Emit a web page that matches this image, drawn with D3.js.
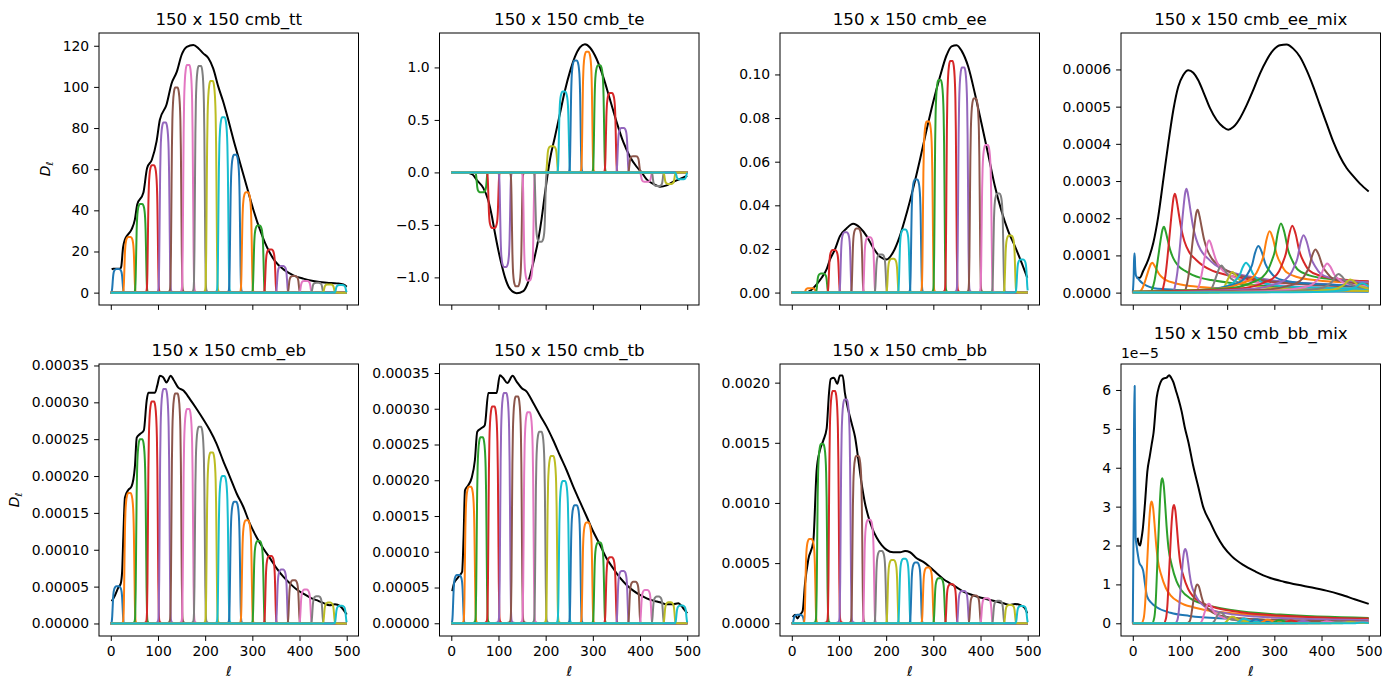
<!DOCTYPE html>
<html><head><meta charset="utf-8">
<script src="https://cdn.jsdelivr.net/npm/d3@7"></script>
<style>body{margin:0;background:#fff}svg{display:block}text{font-family:"DejaVu Sans",sans-serif;fill:#000}</style>
</head><body><svg id="chart" width="1391" height="690"></svg>
<script>
// ---------------- data ----------------
const titles = ["150 x 150 cmb_tt","150 x 150 cmb_te","150 x 150 cmb_ee","150 x 150 cmb_ee_mix",
                "150 x 150 cmb_eb","150 x 150 cmb_tb","150 x 150 cmb_bb","150 x 150 cmb_bb_mix"];
const xTicks = [0,100,200,300,400,500];
const binCenters = [14.5,39.4,64.3,89.2,114.1,139.0,163.9,188.8,213.7,238.6,263.5,288.4,313.3,338.2,363.1,388.0,412.9,437.8,462.7,487.6];
// bandpower window profile (offset from bin centre, relative weight)
const windowOffsets = [-24,-18,-15,-13.5,-12.5,-11.5,-10.5,-9.5,-8.5,-7,-5,-2.5,0,2.5,5,7,8.5,9.5,10.5,11.5,12.5,13.5,15,18,24];
const windowWeights = [0,0.002,0.006,0.015,0.05,0.19,0.45,0.7,0.84,0.93,0.98,1,1,1,0.98,0.93,0.84,0.7,0.45,0.19,0.05,0.015,0.006,0.002,0];

// theory curves (ell, D_ell)
const ttTheory = [[2,11.2],[5,11.6],[19.5,11.6],[22,12.5],[26,22],[30,25.8],[34,27.5],[44,30.7],[51,35.5],[56,42.8],[69,48.5],[77,60.6],[87,64.6],[97,73.5],[104,84],[118,91.3],[129,101.8],[140,107.4],[150,115.5],[161,119.5],[175,120.4],[186,118.7],[196,116.3],[207,113.9],[217,109],[228,100],[238,93],[249,84],[260,74.3],[274,63],[288,51.7],[302,40.4],[316,30.7],[330,22.6],[348,15.3],[366,11.3],[387,8.4],[408,6.8],[429,5.7],[458,4.8],[479,4.5],[493,4.0],[500,2.9]];
const teTheory = [[2,0],[30,0],[45,-0.02],[54,-0.073],[68,-0.15],[78,-0.26],[85.5,-0.405],[92.6,-0.58],[99.6,-0.74],[106.7,-0.88],[113.8,-1.0],[124.4,-1.11],[138.5,-1.15],[152.6,-1.13],[163.2,-1.04],[173.8,-0.86],[184.4,-0.64],[191.5,-0.44],[198.5,-0.2],[203.5,-0.04],[209,0.12],[219.7,0.34],[230.3,0.56],[240.9,0.78],[251.5,0.96],[262,1.10],[272.6,1.19],[283.2,1.22],[293.8,1.19],[308,1.08],[322,0.91],[336,0.70],[350.4,0.48],[364.5,0.29],[378.7,0.15],[392.8,0.054],[403.4,0],[414,-0.066],[428,-0.11],[442.3,-0.136],[456.4,-0.123],[470.5,-0.089],[484.6,-0.063],[500,-0.032]];
const eeTheory = [[2,0],[30,0],[38.6,0.0008],[52.7,0.0038],[63.3,0.0068],[73.9,0.0107],[81,0.0152],[91.5,0.0198],[102,0.0259],[116,0.0294],[130,0.0315],[144.5,0.0297],[158.6,0.0259],[172.7,0.0205],[187,0.0164],[201,0.0152],[215,0.0186],[229,0.0259],[243.6,0.0365],[257.5,0.048],[271.6,0.0609],[285.7,0.0746],[299.8,0.0875],[314,0.0989],[328,0.1088],[338.7,0.1129],[349.3,0.1134],[360,0.1108],[374,0.1035],[388,0.0913],[402,0.0776],[416.4,0.0632],[430.5,0.0487],[444.6,0.0373],[458.7,0.0282],[472.8,0.0213],[487,0.0137],[499,0.0068]];
const eeMixTheory = [[8,0.00004],[15,0.00004],[22,0.000058],[33,0.0000893],[43.5,0.000134],[54,0.000205],[64.7,0.000304],[75.3,0.000402],[85.9,0.000491],[96.5,0.000554],[107,0.000585],[117.7,0.000598],[128.2,0.000591],[138.8,0.000571],[149.4,0.00054],[163.6,0.000496],[177.7,0.000464],[191.8,0.000445],[202.5,0.000438],[213,0.000445],[227.2,0.000469],[241.3,0.000504],[255.4,0.000545],[269.5,0.000589],[283.6,0.000625],[297.7,0.000652],[311.9,0.000665],[326,0.000667],[340.1,0.000656],[354.2,0.000634],[368.4,0.000598],[382.5,0.000554],[396.6,0.000504],[410.7,0.000455],[424.9,0.000406],[439,0.000366],[453.1,0.000335],[467.2,0.000313],[481.4,0.000293],[500,0.000272]];
const ebTheory = [[2,0.00003],[9,0.0000383],[16,0.0000487],[21,0.000054],[24,0.00007],[26.5,0.000117],[30,0.000171],[37,0.000181],[44,0.000186],[51,0.000212],[55,0.000252],[62,0.000257],[70,0.000262],[76,0.000302],[79.5,0.000313],[93.6,0.000313],[98.6,0.000323],[104,0.000336],[111,0.000334],[118,0.000327],[127,0.000336],[132.6,0.000331],[143,0.00032],[154,0.000316],[168,0.000304],[182,0.000291],[196,0.000277],[210,0.000262],[224,0.000244],[238,0.000221],[253,0.000198],[267,0.000176],[281,0.000158],[295,0.000135],[309,0.000117],[324,0.000101],[338,0.000088],[352,0.0000744],[366,0.0000631],[380,0.0000541],[394,0.000046],[408,0.0000406],[422,0.0000352],[436,0.0000316],[450,0.000028],[464,0.0000248],[475,0.0000262],[486,0.0000235],[500,0.0000122]];
const tbTheory = [[2,0.000045],[5.7,0.0000559],[12.8,0.0000629],[18.4,0.0000676],[23,0.000072],[26,0.00012],[29,0.000186],[36,0.000193],[43,0.000203],[50,0.000228],[55,0.000268],[64,0.000273],[71,0.000277],[78.5,0.000322],[89,0.000322],[96,0.000322],[103,0.000347],[110,0.000343],[118.7,0.000336],[130,0.000346],[138.5,0.000338],[149,0.000329],[159.7,0.000324],[173.8,0.000308],[188,0.000291],[202,0.000275],[216,0.000256],[230,0.000235],[244.4,0.000214],[258.5,0.000191],[272.6,0.00017],[287,0.000149],[301,0.000128],[315,0.00011],[329,0.0000909],[343,0.0000769],[357.4,0.0000638],[371.5,0.0000536],[385.7,0.0000457],[399.8,0.0000396],[414,0.0000349],[428,0.0000317],[442,0.0000294],[456,0.0000266],[470,0.0000266],[481,0.000028],[491.6,0.000021],[500,0.000014]];
const bbTheory = [[2,0.00005],[3,0.000055],[7,0.00007],[12,0.00004],[17,0.00007],[23,0.0001],[28,0.00033],[35,0.00053],[45.6,0.00068],[52.6,0.00127],[59.7,0.00144],[66.8,0.00152],[73.9,0.00162],[78.8,0.00191],[82.4,0.00203],[89.4,0.00204],[96.5,0.00199],[102,0.00206],[107.7,0.00206],[112.7,0.00191],[119.8,0.00177],[127,0.00166],[134,0.00155],[141,0.00136],[148,0.00116],[155,0.001],[162,0.00089],[169.5,0.0008],[180,0.00071],[190.5,0.00065],[201,0.00061],[215,0.00059],[229.5,0.00059],[240,0.0006],[250.6,0.00059],[264.6,0.00054],[278.8,0.00051],[293,0.000465],[307,0.000415],[321,0.000368],[335.4,0.000332],[349.4,0.000299],[363.6,0.000263],[377.8,0.000241],[392,0.000222],[406,0.000208],[420,0.000194],[434,0.00018],[448.4,0.000166],[462.5,0.000152],[473,0.00016],[483.6,0.000152],[494,0.000125],[499,0.000083]];
// bb_mix values in units of 1e-5
const bbMixTheory = [[10,2.2],[12.5,2.05],[15.5,2.0],[18,2.15],[21,2.4],[25.8,3.08],[30.8,3.9],[36,4.3],[40,4.6],[44,4.9],[50.6,5.8],[56,6.1],[61,6.25],[66,6.3],[72,6.32],[77,6.38],[81,6.32],[86,6.2],[91,6.0],[96.5,5.78],[103.5,5.45],[110,5.05],[118,4.65],[128,4.05],[139,3.5],[149,3.0],[164,2.6],[178,2.25],[192,1.97],[210,1.72],[234,1.5],[260,1.33],[290,1.17],[320,1.07],[350,0.99],[380,0.92],[410,0.84],[440,0.74],[470,0.62],[500,0.5]];

// windowed bandpower peak heights, bins 0..19
const ttPeaks = [11.5,27.1,43.1,61.9,82.7,99.7,110.7,110.2,102.9,85.3,67,48.8,32.6,21,12.9,8.1,5.7,4.8,4.0,3.7];
const tePeaks = [0,-0.005,-0.19,-0.53,-0.90,-1.085,-1.03,-0.66,0.25,0.77,1.066,1.149,1.02,0.756,0.424,0.155,-0.09,-0.13,-0.11,-0.066];
const eePeaks = [0,0.002,0.0087,0.0195,0.0277,0.0294,0.0254,0.0175,0.0155,0.0289,0.0518,0.0784,0.0974,0.1062,0.1032,0.089,0.0677,0.0454,0.0262,0.0152];
const ebPeaks = [0.0000505,0.000177,0.00025,0.000301,0.000318,0.000312,0.000291,0.000267,0.000232,0.0002,0.000165,0.00014,0.000112,0.0000916,0.0000731,0.0000586,0.000046,0.000037,0.0000284,0.0000239];
const tbPeaks = [0.0000676,0.000191,0.00026,0.000303,0.000322,0.000317,0.000295,0.000268,0.000234,0.000199,0.000165,0.000141,0.000113,0.0000923,0.0000732,0.0000582,0.0000466,0.0000373,0.0000294,0.0000247];
const bbPeaks = [0.00007,0.0007,0.00149,0.00193,0.00186,0.00139,0.00086,0.0006,0.000526,0.000537,0.000504,0.000463,0.000374,0.000324,0.000269,0.00023,0.000208,0.000188,0.000152,0.000144];

// leakage (mix) windows: first bin given point by point, bins 1..19 by peak + kernel
const eeMixFirstBin = [[0,0],[2,0.00005],[3,0.000105],[4,0.000105],[5,0.00007],[7,0.000045],[11,0.000038],[15,0.000032],[20,0.000026],[30,0.000018],[45,0.000012],[70,0.000009],[120,0.000006],[250,0.000004],[500,0.000002]];
const eeMixPeakEll = [41.4,66,89.4,114,137.5,162,188,211.6,240,266,290,314,338,362,387,412,436,461,486];
const eeMixPeaks = [0.0000804,0.000177,0.000266,0.000279,0.000223,0.000141,0.0000732,0.0000554,0.0000804,0.000125,0.000165,0.000186,0.00018,0.000154,0.000116,0.0000786,0.00005,0.000035,0.000025];
const eeMixKernelOf = [0,0,0,0,0,0,0,0,1,1,1,1,1,1,1,1,1,1,1];
const eeMixKernelLow = [[-30,0],[-25,0.05],[-20,0.18],[-16,0.35],[-12,0.55],[-7,0.8],[-3,0.96],[0,1],[4,0.92],[8,0.8],[14,0.63],[20,0.52],[30,0.41],[45,0.33],[60,0.27],[80,0.22],[100,0.19],[150,0.14],[200,0.11],[300,0.08],[450,0.05]];
const eeMixKernelHigh = [[-400,0],[-200,0.03],[-100,0.07],[-60,0.15],[-40,0.22],[-28,0.32],[-20,0.45],[-13,0.6],[-7,0.85],[0,1],[7,0.88],[15,0.62],[25,0.45],[36,0.33],[60,0.25],[100,0.2],[200,0.15],[300,0.1]];
const bbMixFirstBin = [[0,0],[2,3.0],[3,6.1],[4,6.1],[5,4.0],[6,2.2],[8,2.0],[11,1.75],[14,1.55],[19,1.45],[22,1.35],[26,1.0],[30,0.7],[40,0.52],[50,0.42],[80,0.27],[120,0.19],[200,0.12],[300,0.08],[500,0.04]];
const bbMixPeakEll = [40,62.6,87.3,111.3,137,161,186,211,236,261,286,311,336,361,386,411,436,461,486];
const bbMixPeaks = [3.13,3.73,3.04,1.91,1.0,0.5,0.28,0.17,0.12,0.1,0.09,0.08,0.07,0.06,0.05,0.05,0.04,0.03,0.02];
const bbMixKernelOf = [0,0,0,0,0,0,0,0,0,0,0,0,0,0,0,0,0,0,0];
const bbMixKernel = [[-22,0],[-17,0.04],[-14,0.15],[-11,0.38],[-8,0.62],[-5,0.85],[-2,0.98],[0,1],[3,0.95],[6,0.82],[9,0.67],[13,0.52],[20,0.4],[30,0.29],[40,0.23],[60,0.17],[90,0.13],[150,0.09],[250,0.06],[450,0.035]];

// y tick values
const ttYTicks = [0,20,40,60,80,100,120];
const teYTicks = [-1,-0.5,0,0.5,1];
const eeYTicks = [0,0.02,0.04,0.06,0.08,0.10];
const eeMixYTicks = [0,0.0001,0.0002,0.0003,0.0004,0.0005,0.0006];
const ebYTicks = [0,0.00005,0.0001,0.00015,0.0002,0.00025,0.0003,0.00035];
const tbYTicks = ebYTicks;
const bbYTicks = [0,0.0005,0.001,0.0015,0.002];
const bbMixYTicks = [0,1,2,3,4,5,6];

// ---------------- layout / options ----------------
const tab10 = ["#1f77b4","#ff7f0e","#2ca02c","#d62728","#9467bd","#8c564b","#e377c2","#7f7f7f","#bcbd22","#17becf"];
const colLeft = [99,439.5,780,1121], rowTop = [33,364], PW = 259.5, PH = 272;
const xDomain = [-25,525];
const panels = [
 {theory:ttTheory, peaks:ttPeaks, yDomain:[-6.01,126.2], yTicks:ttYTicks, fmt:d3.format("d")},
 {theory:teTheory, peaks:tePeaks, yDomain:[-1.263,1.328], yTicks:teYTicks, fmt:d3.format(".1f")},
 {theory:eeTheory, peaks:eePeaks, yDomain:[-0.0057,0.1190], yTicks:eeYTicks, fmt:d3.format(".2f")},
 {theory:eeMixTheory, mix:{first:eeMixFirstBin, pos:eeMixPeakEll, peaks:eeMixPeaks, kOf:eeMixKernelOf, kernels:[eeMixKernelLow,eeMixKernelHigh]}, yDomain:[-0.0000333,0.000698], yTicks:eeMixYTicks, fmt:d3.format(".4f")},
 {theory:ebTheory, peaks:ebPeaks, yDomain:[-0.0000170,0.000352], yTicks:ebYTicks, fmt:d3.format(".5f")},
 {theory:tbTheory, peaks:tbPeaks, yDomain:[-0.0000178,0.0003626], yTicks:tbYTicks, fmt:d3.format(".5f")},
 {theory:bbTheory, peaks:bbPeaks, yDomain:[-0.000106,0.002155], yTicks:bbYTicks, fmt:d3.format(".4f")},
 {theory:bbMixTheory, mix:{first:bbMixFirstBin, pos:bbMixPeakEll, peaks:bbMixPeaks, kOf:bbMixKernelOf, kernels:[bbMixKernel]}, yDomain:[-0.327,6.668], yTicks:bbMixYTicks, fmt:d3.format("d"), offsetText:"1e\u22125"}
];

const svg = d3.select("#chart");
const W = d3.scaleLinear().domain(windowOffsets).range(windowWeights).clamp(true);

function autoCurves(p){
  return binCenters.map((c,b)=>{
    const pts = windowOffsets.map(o=>c+o).filter(l=>l>0 && l<500);
    return [[0,p.peaks[b]*W(-c)], ...pts.map(l=>[l,p.peaks[b]*W(l-c)]), [500,p.peaks[b]*W(500-c)]];
  });
}
function mixCurves(m){
  const out = [m.first];
  m.pos.forEach((c,i)=>{
    const ker = m.kernels[m.kOf[i]];
    const K = d3.scaleLinear().domain(ker.map(d=>d[0])).range(ker.map(d=>d[1])).clamp(true);
    const pts = ker.map(d=>c+d[0]).filter(l=>l>0 && l<500);
    out.push([[0,m.peaks[i]*K(-c)], ...pts.map(l=>[l,m.peaks[i]*K(l-c)]), [500,m.peaks[i]*K(500-c)]]);
  });
  return out;
}

panels.forEach((p,i)=>{
  const row = Math.floor(i/4), col = i%4;
  const g = svg.append("g").attr("transform",`translate(${colLeft[col]},${rowTop[row]})`);
  const x = d3.scaleLinear().domain(xDomain).range([0,PW]);
  const y = d3.scaleLinear().domain(p.yDomain).range([PH,0]);
  g.append("clipPath").attr("id","clip"+i).append("rect").attr("width",PW).attr("height",PH);
  const plot = g.append("g").attr("clip-path",`url(#clip${i})`);
  const line = d3.line().x(d=>x(d[0])).y(d=>y(d[1])).curve(d3.curveMonotoneX);
  plot.append("path").attr("d",line(p.theory)).attr("fill","none").attr("stroke","#000")
      .attr("stroke-width",2).attr("stroke-linejoin","round");
  const curves = p.mix ? mixCurves(p.mix) : autoCurves(p);
  curves.forEach((c,b)=>{
    plot.append("path").attr("d",line(c)).attr("fill","none").attr("stroke",tab10[b%10])
        .attr("stroke-width",2).attr("stroke-linejoin","round");
  });
  g.append("rect").attr("width",PW).attr("height",PH).attr("fill","none").attr("stroke","#000").attr("stroke-width",1);

  const ya = g.append("g").call(d3.axisLeft(y).tickValues(p.yTicks).tickFormat(p.fmt).tickSize(4.9).tickPadding(4.9));
  const xa = g.append("g").attr("transform",`translate(0,${PH})`)
     .call(d3.axisBottom(x).tickValues(xTicks).tickFormat(row===1?d3.format("d"):"").tickSize(4.9).tickPadding(4.9));
  [ya,xa].forEach(a=>{
    a.select(".domain").remove();
    a.attr("font-family",null).attr("font-size",null);
    a.selectAll("line").attr("stroke","#000").attr("stroke-width",1);
    a.selectAll("text").attr("font-size","13.9px").attr("fill","#000");
  });
  xa.selectAll("text").attr("dy","0.76em");

  // title sits above the offset text when the axis has one
  g.append("text").attr("x",PW/2).attr("y",p.offsetText ? -25 : -8.3).attr("text-anchor","middle")
   .attr("font-size","16.67px").text(titles[i]);
  if(row===1){
    g.append("text").attr("x",PW/2).attr("y",PH+40).attr("text-anchor","middle")
     .attr("font-size","13.9px").attr("font-style","italic").text("\u2113");
  }
  if(col===0){
    const lx = row===0 ? 50-colLeft[0] : 19-colLeft[0];
    const t = g.append("text").attr("transform",`translate(${lx},${PH/2}) rotate(-90)`)
      .attr("text-anchor","middle").attr("font-size","13.9px");
    t.append("tspan").attr("font-style","italic").text("D");
    t.append("tspan").attr("font-style","italic").attr("font-size","9.7px").attr("dy","3").text("\u2113");
  }
  if(p.offsetText){
    g.append("text").attr("x",0).attr("y",-6).attr("font-size","13.9px").text(p.offsetText);
  }
});
</script></body></html>
